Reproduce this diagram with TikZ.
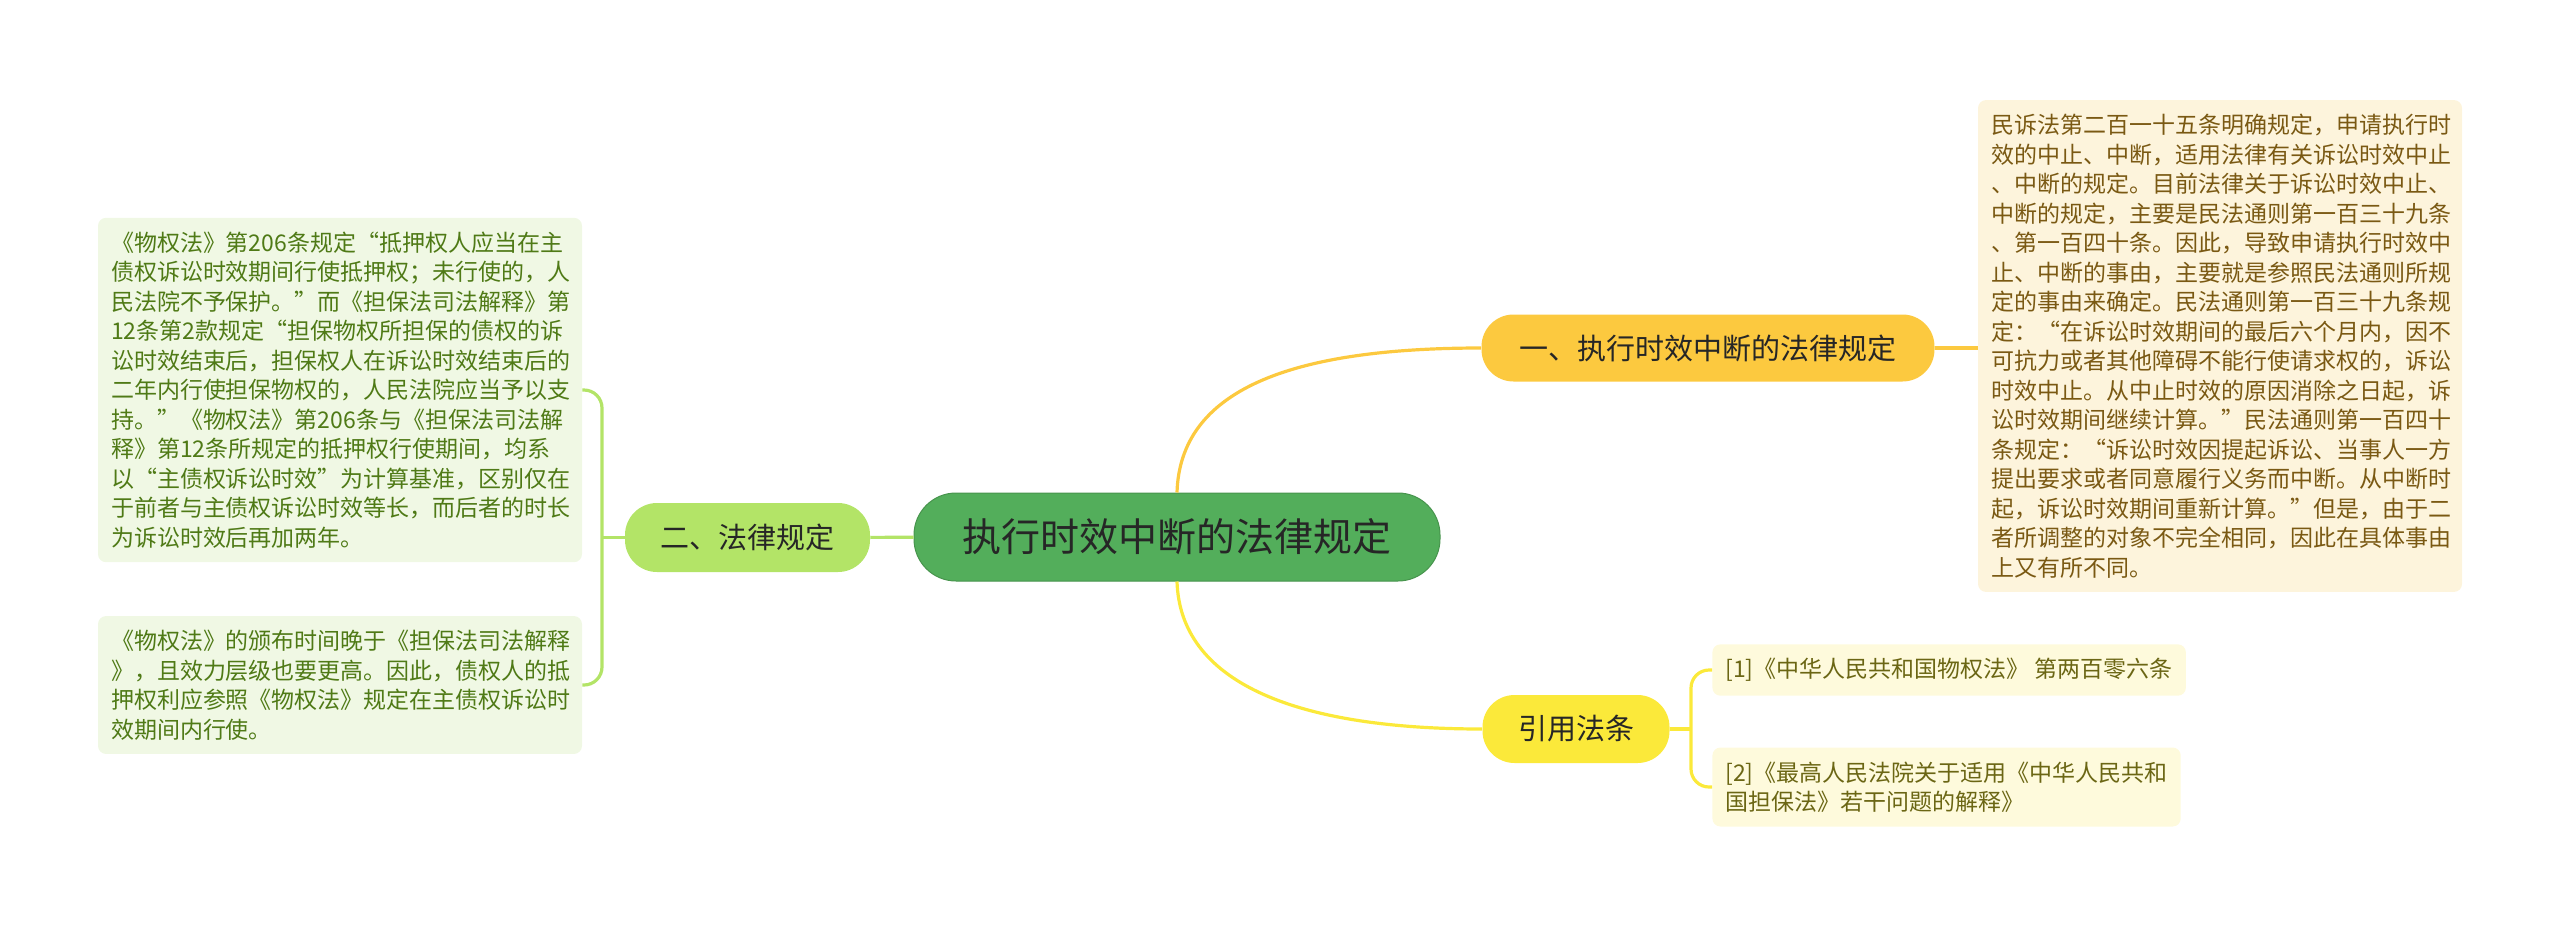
\documentclass[tikz,border=0pt]{standalone}
\usepackage{fontspec}
\setmainfont{Noto Sans CJK SC}
\usepackage{tikz}

\definecolor{rootgreen}{HTML}{53AE5B}
\definecolor{lawgreen}{HTML}{B3E467}
\definecolor{ruleorange}{HTML}{FCC93F}
\definecolor{citeyellow}{HTML}{FBE93A}
\definecolor{lawbg}{HTML}{F0F8E4}
\definecolor{lawtext}{HTML}{4F7A16}
\definecolor{rulebg}{HTML}{FDF4DC}
\definecolor{ruletext}{HTML}{7A5913}
\definecolor{citebg}{HTML}{FEFADC}
\definecolor{citetext}{HTML}{6B6614}

\begin{document}
\begin{tikzpicture}[x=0.5pt, y=-0.5pt,
  root/.style={fill=rootgreen, draw=rootgreen!85!black, line width=0.5pt,
    rounded corners=21pt, minimum width=263pt, minimum height=44pt,
    inner sep=0pt, text=black!85, font=\fontsize{19.5pt}{22pt}\selectfont},
  topic/.style={rounded corners=16pt, inner sep=0pt, text=black!85,
    font=\fontsize{14.5pt}{16pt}\selectfont},
  leaf/.style={rounded corners=4pt, inner xsep=6.5pt, inner ysep=7pt,
    align=left, font=\fontsize{11.5pt}{14.75pt}\selectfont},
  link/.style={line width=1.6pt}]
  \useasboundingbox (0,0) rectangle (2560,927);

  \node[root] (main) at (1177,537) {执行时效中断的法律规定};
  \node[topic, fill=lawgreen, minimum width=122.5pt, minimum height=34.5pt]
    (law) at (747.5,537.5) {二、法律规定};
  \node[topic, fill=ruleorange, minimum width=226.5pt, minimum height=33.5pt]
    (rule) at (1708,348) {一、执行时效中断的法律规定};
  \node[topic, fill=citeyellow, minimum width=93.5pt, minimum height=34pt]
    (cite) at (1576,729) {引用法条};

  \node[leaf, fill=lawbg, text=lawtext, text width=229pt] (law1) at (340,390)
    {《物权法》第206条规定“抵押权人应当在主\\
     债权诉讼时效期间行使抵押权；未行使的，人\\
     民法院不予保护。”而《担保法司法解释》第\\
     12条第2款规定“担保物权所担保的债权的诉\\
     讼时效结束后，担保权人在诉讼时效结束后的\\
     二年内行使担保物权的，人民法院应当予以支\\
     持。”《物权法》第206条与《担保法司法解\\
     释》第12条所规定的抵押权行使期间，均系\\
     以“主债权诉讼时效”为计算基准，区别仅在\\
     于前者与主债权诉讼时效等长，而后者的时长\\
     为诉讼时效后再加两年。};
  \node[leaf, fill=lawbg, text=lawtext, text width=229pt] (law2) at (340,685)
    {《物权法》的颁布时间晚于《担保法司法解释\\
     》，且效力层级也要更高。因此，债权人的抵\\
     押权利应参照《物权法》规定在主债权诉讼时\\
     效期间内行使。};
  \node[leaf, fill=rulebg, text=ruletext, text width=229pt] (rule1) at (2220,346)
    {民诉法第二百一十五条明确规定，申请执行时\\
     效的中止、中断，适用法律有关诉讼时效中止\\
     、中断的规定。目前法律关于诉讼时效中止、\\
     中断的规定，主要是民法通则第一百三十九条\\
     、第一百四十条。因此，导致申请执行时效中\\
     止、中断的事由，主要就是参照民法通则所规\\
     定的事由来确定。民法通则第一百三十九条规\\
     定：“在诉讼时效期间的最后六个月内，因不\\
     可抗力或者其他障碍不能行使请求权的，诉讼\\
     时效中止。从中止时效的原因消除之日起，诉\\
     讼时效期间继续计算。”民法通则第一百四十\\
     条规定：“诉讼时效因提起诉讼、当事人一方\\
     提出要求或者同意履行义务而中断。从中断时\\
     起，诉讼时效期间重新计算。”但是，由于二\\
     者所调整的对象不完全相同，因此在具体事由\\
     上又有所不同。};
  \node[leaf, fill=citebg, text=citetext, anchor=west] (cite1) at (1712,670)
    {[1]《中华人民共和国物权法》 第两百零六条};
  \node[leaf, fill=citebg, text=citetext, anchor=west] (cite2) at (1712,787)
    {[2]《最高人民法院关于适用《中华人民共和\\
     国担保法》若干问题的解释》};

  \coordinate (lawfork) at (602,537.5);
  \coordinate (citefork) at (1691,729);

  \draw[link, lawgreen] (main) -- (law);
  \draw[link, lawgreen] (law.west) -- (lawfork);
  \draw[link, lawgreen, rounded corners=9pt] (law1.east) -| (lawfork) |- (law2.east);
  \draw[link, ruleorange] (main.north) .. controls (1180,390) and (1290,348) .. (rule.west);
  \draw[link, ruleorange] (rule.east) -- (rule1.west |- rule.east);
  \draw[link, citeyellow] (main.south) .. controls (1180,680) and (1290,729) .. (cite.west);
  \draw[link, citeyellow] (cite.east) -- (citefork);
  \draw[link, citeyellow, rounded corners=9pt] (cite1.west) -| (citefork) |- (cite2.west);
\end{tikzpicture}
\end{document}
